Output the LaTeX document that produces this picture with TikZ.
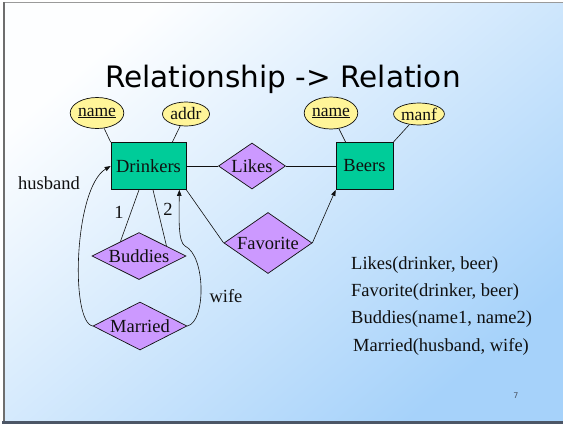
\documentclass[tikz,border=0pt]{standalone}
\usepackage{fontspec}
\setmainfont{Liberation Serif}
\newfontfamily\headfont{DejaVu Sans}
\usetikzlibrary{arrows.meta,positioning,calc,shapes.geometric}
\definecolor{cInk}{HTML}{101010}
\definecolor{cEnt}{HTML}{00CC99}
\definecolor{cRel}{HTML}{CC99FF}
\definecolor{cAttr}{HTML}{FFF599}
\definecolor{cSkyA}{HTML}{FDFEFF}
\definecolor{cSkyB}{HTML}{A6D2FA}
\definecolor{cEdge}{HTML}{6E6E6E}
\definecolor{cFoot}{HTML}{4C5666}
\tikzset{
  ent/.style={draw=cInk,fill=cEnt,line width=0.7pt,minimum width=#1,minimum height=47pt,inner sep=0pt,font=\fontsize{18.5}{20}\selectfont,text=cInk},
  ent/.default=75pt,
  rel/.style={diamond,aspect=2,draw=cInk,fill=cRel,line width=0.7pt,inner sep=0pt,font=\fontsize{18.5}{20}\selectfont,text=cInk},
  attr/.style={ellipse,draw=cInk,fill=cAttr,line width=0.7pt,inner sep=0pt,minimum width=47pt,font=\fontsize{17.5}{18}\selectfont,text=cInk},
  ln/.style={line width=0.6pt,color=cInk},
  arr/.style={-{Triangle[length=6pt,width=4.5pt]},line width=0.6pt,color=cInk},
  lbl/.style={font=\fontsize{18.5}{20}\selectfont,text=cInk,inner sep=0pt},
  schema/.style={font=\fontsize{18.5}{20}\selectfont,text=cInk,anchor=base west,inner sep=0pt},
}
\begin{document}
\begin{tikzpicture}[x=1pt,y=-1pt]
    \useasboundingbox (0,0) rectangle (563,424);
    % slide background
    \fill[white] (0,0) rectangle (563,424);
    \shade[shading=axis,top color=cSkyA,bottom color=cSkyB,shading angle=40] (4,3) rectangle (563,421);
    \draw[cEdge!70,line width=1pt] (3,2.5) -- (563,2.5);
    \draw[cEdge,line width=2pt] (3.5,2) -- (3.5,422);
    \draw[cFoot,line width=2.5pt] (2,422.5) -- (563,422.5);
    % title
    \node[font=\headfont\fontsize{29.5}{32}\selectfont,anchor=base,text=black,inner sep=0pt] (ttl) at (283,87) {Relationship -> Relation};
    % entities and relationships
    \node[ent=75pt] (drk) at (148.5,166) {Drinkers};
    \node[ent=57pt] (brs) at (364.5,166) {Beers};
    \node[rel,minimum width=56pt,minimum height=46pt] (lik) at (252,166) {Likes};
    \node[rel,minimum width=88pt,minimum height=61pt] (fav) at (268,243) {Favorite};
    \node[rel,minimum width=94pt,minimum height=47pt] (bud) at (139,256) {Buddies};
    \node[rel,minimum width=94pt,minimum height=48pt] (mar) at (140,326) {Married};
    % attributes
    \node[attr,minimum height=31pt] (dnm) at (97,113) {\underline{name}};
    \node[attr,minimum height=24pt] (dad) at (186,114) {addr};
    \node[attr,minimum height=32pt] (bnm) at (331,113) {\underline{name}};
    \node[attr,minimum width=44pt,minimum height=22pt] (bmf) at (419,114) {manf};
    \draw[ln] (dnm) -- (drk.north west); \draw[ln] (dad) -- ($(drk.north east)+(-14,0)$);
    \draw[ln] (bnm) -- ($(brs.north west)+(10,0)$); \draw[ln] (bmf) -- (brs.north east);
    % connectors
    \draw[ln] (drk) -- (lik); \draw[ln] (lik) -- (brs);
    \draw[ln] (drk.south east) -- (fav.west); \draw[arr] (fav.east) -- (brs.south west);
    \draw[ln] ($(drk.south)+(-9.5,0)$) -- (bud.142); \draw[ln] ($(drk.south)+(4.5,0)$) -- (bud.20);
    \draw[arr] (mar.west) .. controls (70,322) and (74,188) .. (drk.west);
    \draw[arr] (mar.east) .. controls (206,322) and (206,256) .. (185,246) .. controls (178,242) and (179,218) .. ($(drk.south east)+(-7,0)$);
    % role labels
    \node[lbl] (one) at (119,212) {1};
    \node[lbl] (two) at (168,209) {2};
    \node[lbl] (hus) at (49,183) {husband};
    \node[lbl] (wif) at (226,296) {wife};
    % relations
    \node[schema] (sLik) at (351,269) {Likes(drinker, beer)};
    \node[schema] (sFav) at (351,296) {Favorite(drinker, beer)};
    \node[schema] (sBud) at (351,323) {Buddies(name1, name2)};
    \node[schema] (sMar) at (353,351) {Married(husband, wife)};
    \node[font=\headfont\fontsize{8}{9}\selectfont,text=cFoot] (pg) at (516,396) {7};
\end{tikzpicture}
\end{document}
